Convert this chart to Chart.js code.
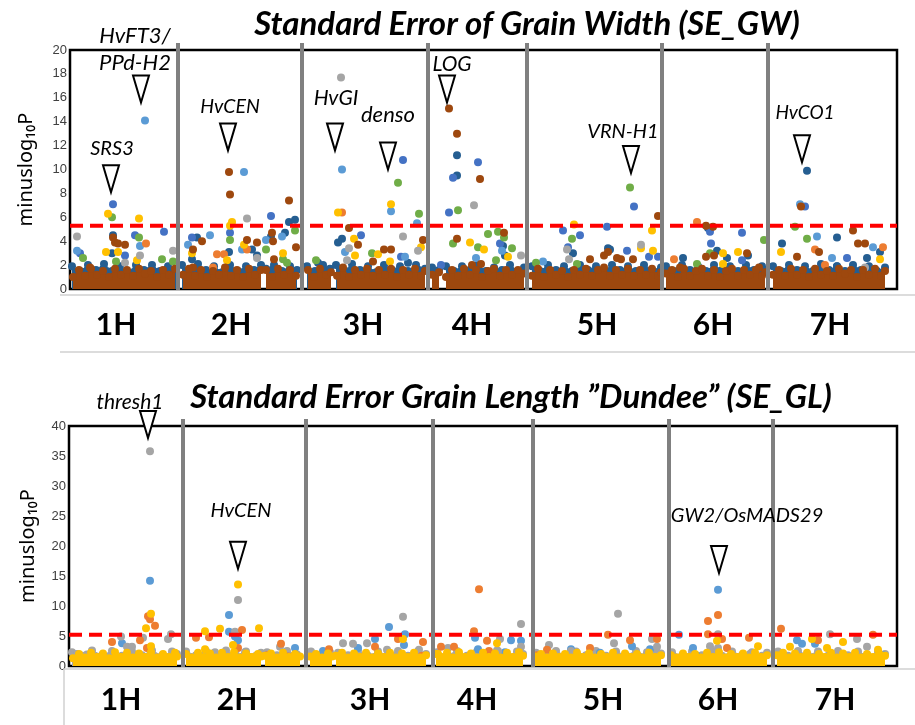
<!DOCTYPE html>
<html>
<head>
<meta charset="utf-8">
<script src="https://cdn.jsdelivr.net/npm/chart.js@4.4.1/dist/chart.umd.min.js"></script>
<style>
  body { margin: 0; background: #fff; width: 915px; height: 725px; position: relative; overflow: hidden; }
  canvas { position: absolute; left: 0; }
  #gw { top: 0; }
  #gl { top: 355px; }
</style>
</head>
<body>
<canvas id="gw" width="915" height="355"></canvas>
<canvas id="gl" width="915" height="370"></canvas>
<script>
// Chromosomes and cumulative start position of each one (same units as SNP positions)
const chromosomes = ['1H', '2H', '3H', '4H', '5H', '6H', '7H'];
const gwChrStart = [0, 108, 232, 358, 457, 592, 698];
const gwGenomeEnd = 827;
const gwChrLabelPos = [46, 161, 293, 402, 527, 643, 760];
const glChrStart = [0, 114, 237, 364, 464, 600, 704];
const glGenomeEnd = 828;
const glChrLabelPos = [52, 168, 301, 408, 534, 649, 766];

const gwThreshold = 5.3;
const glThreshold = 5.2;

// SE_GW markers: [chromosome, position in chromosome, -log10 P]
const gwLightBlue = [
  [1, 7, 3.2], [1, 70, 3.6], [1, 75, 14.1],
  [2, 66, 9.8], [2, 32, 4.5], [2, 64, 3.3], [2, 88, 4.1], [2, 104, 4.4], [2, 10, 3.7],
  [3, 40, 10.0], [3, 89, 6.5], [3, 115, 5.5], [3, 43, 3.1], [3, 103, 2.7],
  [4, 48, 2.6], [4, 74, 3.2],
  [5, 16, 2.3],
  [7, 32, 7.1], [7, 49, 4.4], [7, 64, 2.6], [7, 105, 3.5]
];
const gwDarkBlue = [
  [1, 43, 4.5], [1, 42, 3.0],
  [2, 51, 3.1], [2, 74, 3.3], [2, 79, 2.8], [2, 93, 4.4], [2, 111, 5.6], [2, 117, 5.8], [2, 107, 4.7], [2, 19, 4.3], [2, 14, 2.5],
  [3, 40, 4.2], [3, 36, 3.9], [3, 106, 2.2], [3, 16, 2.2],
  [4, 29, 11.2], [4, 29, 9.5], [4, 75, 3.6], [4, 77, 2.8],
  [5, 46, 3.0], [5, 81, 3.4], [5, 83, 3.3],
  [6, 46, 5.1], [6, 55, 3.2], [6, 65, 2.6], [6, 21, 2.6], [6, 86, 2.8],
  [7, 39, 9.9], [7, 69, 4.3], [7, 14, 3.8], [7, 112, 3.1], [7, 99, 2.6], [7, 69, 1.9]
];
const gwBlue = [
  [1, 43, 7.1], [1, 10, 3.0], [1, 55, 2.8], [1, 65, 4.5], [1, 94, 4.8],
  [2, 93, 6.1], [2, 14, 4.3], [2, 52, 4.7],
  [3, 101, 10.8], [3, 59, 4.5], [3, 99, 2.7],
  [4, 50, 10.6], [4, 25, 9.3], [4, 21, 6.4], [4, 13, 2.0], [4, 72, 3.8],
  [5, 107, 6.9], [5, 36, 4.9], [5, 80, 5.2], [5, 53, 4.5], [5, 41, 3.5], [5, 100, 3.2], [5, 122, 2.7], [5, 131, 2.7],
  [6, 48, 4.8], [6, 80, 4.7], [6, 49, 3.8], [6, 80, 2.4],
  [7, 37, 6.9], [7, 79, 2.6]
];
const gwGreen = [
  [1, 13, 2.6], [1, 42, 6.0], [1, 46, 2.3], [1, 69, 4.3], [1, 92, 2.5], [1, 103, 2.3],
  [2, 52, 4.1], [2, 117, 4.9], [2, 88, 3.3], [2, 105, 2.5], [2, 109, 2.2],
  [3, 96, 8.9], [3, 117, 6.3], [3, 70, 3.0], [3, 14, 2.4],
  [4, 30, 6.6], [4, 25, 3.8], [4, 50, 3.5], [4, 60, 4.6], [4, 70, 4.8], [4, 76, 4.3], [4, 84, 3.4], [4, 68, 2.4],
  [5, 103, 8.5], [5, 45, 4.2], [5, 9, 2.2], [5, 50, 2.1],
  [6, 102, 4.1], [6, 48, 3.0], [6, 35, 2.1],
  [7, 27, 5.2], [7, 39, 4.2]
];
const gwYellow = [
  [1, 38, 6.3], [1, 36, 3.1], [1, 48, 3.1], [1, 69, 5.9], [1, 67, 2.4],
  [2, 54, 5.6], [2, 52, 5.3], [2, 66, 3.7], [2, 105, 3.0], [2, 49, 2.4], [2, 14, 3.0],
  [3, 36, 6.4], [3, 89, 7.1], [3, 52, 4.2], [3, 53, 2.8], [3, 76, 2.9], [3, 88, 2.3], [3, 119, 3.5],
  [4, 42, 3.9], [4, 56, 3.3], [4, 80, 2.7],
  [5, 47, 5.4], [5, 125, 4.9], [5, 114, 3.4], [5, 126, 3.2],
  [6, 61, 3.0], [6, 76, 3.1], [6, 61, 2.1],
  [7, 13, 3.1], [7, 112, 2.5]
];
const gwGray = [
  [1, 7, 4.4], [1, 55, 2.2], [1, 70, 2.8], [1, 103, 3.2],
  [2, 69, 5.9], [2, 79, 2.6],
  [3, 39, 17.7], [3, 47, 3.4], [3, 45, 2.4], [3, 101, 4.4], [3, 116, 3.2],
  [4, 46, 7.0], [4, 93, 2.8],
  [5, 40, 3.3], [5, 42, 2.5], [5, 114, 3.7],
  [7, 97, 1.8]
];
const gwOrange = [
  [1, 76, 3.8],
  [2, 39, 2.9], [2, 46, 2.9], [2, 69, 3.3], [2, 35, 1.8],
  [3, 40, 6.4],
  [6, 35, 5.6], [6, 12, 2.5],
  [7, 47, 3.3], [7, 115, 3.5], [7, 57, 2.0]
];
const gwBrown = [
  [1, 43, 4.3], [1, 45, 3.9], [1, 48, 3.8], [1, 55, 3.7], [1, 20, 1.8],
  [2, 51, 9.8], [2, 52, 7.9], [2, 111, 7.4], [2, 24, 4.0], [2, 15, 3.3], [2, 69, 4.1], [2, 79, 3.9], [2, 94, 4.7], [2, 95, 4.0], [2, 96, 2.5], [2, 118, 3.5], [2, 15, 1.8],
  [3, 47, 5.1], [3, 56, 3.7], [3, 82, 3.3], [3, 89, 3.3], [3, 121, 4.1], [3, 71, 2.3],
  [4, 21, 15.1], [4, 29, 13.0], [4, 52, 9.2], [4, 29, 4.2], [4, 76, 4.7], [4, 44, 2.0], [4, 53, 2.1],
  [5, 131, 6.1], [5, 63, 2.5], [5, 81, 3.1], [5, 77, 2.8], [5, 94, 2.5], [5, 106, 2.5], [5, 90, 2.6],
  [6, 44, 5.3], [6, 51, 5.2], [6, 44, 2.7], [6, 52, 2.8], [6, 85, 3.0], [6, 97, 1.8], [6, 18, 1.8],
  [7, 33, 6.9], [7, 85, 4.9], [7, 51, 3.1], [7, 90, 3.8], [7, 97, 3.8], [7, 29, 2.7]
];
// upper edge of the dense non-significant markers (null = break between blocks)
const gwBrownBand = [
  [1, 3, 1.0], [1, 9, 1.6], [1, 15, 1.1], [1, 21, 1.7], [1, 27, 1.2], [1, 33, 1.5], [1, 39, 1.0], [1, 45, 1.7], [1, 51, 1.2], [1, 57, 1.6], [1, 63, 1.1], [1, 69, 1.7], [1, 75, 1.3], [1, 81, 1.5], [1, 87, 1.0], [1, 93, 1.6], [1, 99, 1.2], [1, 105, 1.7],
  [2, 5, 1.2], [2, 11, 1.7], [2, 17, 1.1], [2, 23, 1.6], [2, 29, 1.0], [2, 35, 1.5], [2, 41, 1.2], [2, 47, 1.8], [2, 53, 1.1], [2, 59, 1.6], [2, 65, 1.0], [2, 71, 1.7], [2, 77, 1.2], [2, 83, 1.6], [2, 85, null], [2, 88, 1.6], [2, 94, 1.0], [2, 100, 1.7], [2, 106, 1.2], [2, 112, 1.6], [2, 118, 1.1],
  [3, 6, 1.6], [3, 12, 1.0], [3, 18, 1.7], [3, 24, 1.2], [3, 29, 1.4], [3, 31, null], [3, 35, 1.1], [3, 41, 1.8], [3, 47, 1.0], [3, 53, 1.6], [3, 59, 1.2], [3, 65, 1.7], [3, 71, 1.1], [3, 77, 1.6], [3, 83, 1.2], [3, 89, 1.7], [3, 95, 1.0], [3, 101, 1.6], [3, 107, 1.2], [3, 113, 1.7], [3, 119, 1.1], [3, 123, 1.5],
  [4, 4, 1.2], [4, 11, 1.4], [4, 14, null], [4, 18, 1.0], [4, 24, 1.6], [4, 30, 1.1], [4, 36, 1.7], [4, 42, 1.2], [4, 48, 1.6], [4, 54, 1.0], [4, 60, 1.5], [4, 66, 1.7], [4, 72, 1.1], [4, 78, 1.6], [4, 84, 1.2], [4, 90, 1.6], [4, 96, 1.3],
  [5, 5, 1.1], [5, 11, 1.7], [5, 17, 1.0], [5, 23, 1.6], [5, 29, 1.2], [5, 35, 1.5], [5, 41, 1.0], [5, 47, 1.6], [5, 53, 1.2], [5, 59, 1.7], [5, 65, 1.1], [5, 71, 1.6], [5, 77, 1.8], [5, 83, 1.1], [5, 89, 1.6], [5, 95, 1.2], [5, 101, 1.7], [5, 107, 1.1], [5, 113, 1.6], [5, 119, 1.2], [5, 125, 1.7], [5, 131, 1.1], [5, 134, 1.4],
  [6, 4, 1.3], [6, 10, 1.6], [6, 16, 1.0], [6, 22, 1.7], [6, 28, 1.1], [6, 34, 1.5], [6, 40, 1.7], [6, 46, 1.1], [6, 52, 1.6], [6, 58, 1.0], [6, 64, 1.5], [6, 70, 1.7], [6, 76, 1.1], [6, 82, 1.6], [6, 88, 1.2], [6, 94, 1.6], [6, 100, 1.1], [6, 103, 1.4],
  [7, 5, 1.2], [7, 11, 1.6], [7, 17, 1.1], [7, 23, 1.7], [7, 29, 1.2], [7, 35, 1.6], [7, 41, 1.0], [7, 47, 1.7], [7, 53, 1.2], [7, 59, 1.5], [7, 65, 1.1], [7, 71, 1.7], [7, 77, 1.3], [7, 83, 1.6], [7, 89, 1.0], [7, 95, 1.6], [7, 101, 1.2], [7, 107, 1.7], [7, 113, 1.1], [7, 117, 1.5]
];
const gwDarkBlueBand = [
  [1, 2, 1.9], [1, 10, 1.5], [1, 18, 2.0], [1, 26, 1.6], [1, 34, 2.1], [1, 42, 1.5], [1, 50, 1.9], [1, 58, 1.4], [1, 66, 2.0], [1, 74, 1.6], [1, 82, 2.0], [1, 90, 1.5], [1, 98, 1.9], [1, 106, 1.7],
  [2, 4, 2.0], [2, 12, 1.5], [2, 20, 2.1], [2, 28, 1.6], [2, 36, 1.9], [2, 44, 1.4], [2, 52, 2.0], [2, 60, 1.5], [2, 68, 1.9], [2, 76, 1.6], [2, 83, 2.0], [2, 85, null], [2, 88, 1.7], [2, 96, 2.0], [2, 104, 1.5], [2, 112, 1.9], [2, 119, 1.6],
  [3, 5, 1.9], [3, 13, 1.5], [3, 21, 2.0], [3, 28, 1.7], [3, 31, null], [3, 34, 2.0], [3, 42, 1.5], [3, 50, 2.1], [3, 58, 1.6], [3, 66, 1.9], [3, 74, 1.4], [3, 82, 2.0], [3, 90, 1.6], [3, 98, 1.9], [3, 106, 1.5], [3, 114, 2.0], [3, 123, 1.7],
  [4, 4, 1.8], [4, 11, 1.6], [4, 14, null], [4, 18, 1.9], [4, 26, 1.5], [4, 34, 1.9], [4, 42, 1.6], [4, 50, 2.0], [4, 58, 1.5], [4, 66, 1.8], [4, 74, 1.6], [4, 82, 2.0], [4, 90, 1.5], [4, 96, 1.8],
  [5, 5, 1.9], [5, 13, 1.5], [5, 21, 2.0], [5, 29, 1.6], [5, 37, 1.9], [5, 45, 1.5], [5, 53, 2.0], [5, 61, 1.6], [5, 69, 1.9], [5, 77, 1.5], [5, 85, 2.0], [5, 93, 1.6], [5, 101, 1.9], [5, 109, 1.5], [5, 117, 2.0], [5, 125, 1.6], [5, 134, 1.8],
  [6, 4, 1.9], [6, 12, 1.5], [6, 20, 2.0], [6, 28, 1.6], [6, 36, 1.9], [6, 44, 1.5], [6, 52, 2.0], [6, 60, 1.6], [6, 68, 1.9], [6, 76, 1.5], [6, 84, 2.0], [6, 92, 1.6], [6, 100, 1.9], [6, 103, 1.6],
  [7, 5, 1.9], [7, 13, 1.5], [7, 21, 2.0], [7, 29, 1.6], [7, 37, 1.9], [7, 45, 1.5], [7, 53, 2.1], [7, 61, 1.6], [7, 69, 1.9], [7, 77, 1.5], [7, 85, 2.0], [7, 93, 1.6], [7, 101, 1.9], [7, 109, 1.5], [7, 117, 1.8]
];

// SE_GL markers
const glGray = [
  [1, 81, 35.8], [1, 74, 4.7], [1, 52, 4.9], [1, 58, 3.2], [1, 63, 3.2], [1, 99, 4.5], [1, 102, 5.3], [1, 18, 1.9], [1, 8, 2.0],
  [2, 55, 11.0], [2, 52, 5.7], [2, 32, 2.3], [2, 62, 2.3], [2, 97, 3.2],
  [3, 97, 8.2], [3, 61, 3.8], [3, 47, 3.7], [3, 37, 3.8], [3, 113, 2.7], [3, 81, 2.7],
  [4, 88, 7.0], [4, 67, 4.5], [4, 88, 3.2], [4, 15, 3.0], [4, 65, 2.5],
  [5, 85, 8.7], [5, 81, 3.8], [5, 119, 4.5], [5, 124, 3.2], [5, 16, 3.5], [5, 38, 2.5], [5, 114, 2.3],
  [6, 49, 5.3], [6, 41, 3.3], [6, 49, 3.0], [6, 81, 2.0],
  [7, 57, 5.3], [7, 84, 4.5], [7, 94, 3.2]
];
const glBlue = [
  [1, 81, 14.2], [1, 53, 3.8], [1, 8, 1.9],
  [2, 46, 8.5], [2, 46, 5.7], [2, 55, 4.3], [2, 52, 4.9], [2, 112, 3.0],
  [3, 83, 6.5], [3, 99, 5.3], [3, 98, 3.5], [3, 69, 4.5], [3, 52, 3.0], [3, 17, 2.5],
  [4, 42, 4.7], [4, 78, 4.3], [4, 88, 4.2], [4, 45, 2.8], [4, 72, 2.3],
  [5, 99, 3.3], [5, 38, 2.8], [5, 67, 2.2], [5, 117, 2.8],
  [6, 49, 12.7], [6, 10, 5.2], [6, 24, 3.0], [6, 27, 1.8],
  [7, 24, 4.3], [7, 29, 3.7], [7, 42, 3.7], [7, 110, 1.8]
];
const glOrange = [
  [1, 79, 8.3], [1, 81, 7.8], [1, 86, 6.7], [1, 71, 4.3], [1, 78, 3.0], [1, 43, 4.0],
  [2, 59, 6.0], [2, 55, 3.0], [2, 13, 4.7], [2, 26, 4.8], [2, 98, 3.7], [2, 84, 1.8], [2, 105, 1.6],
  [3, 92, 4.5], [3, 69, 3.2], [3, 23, 2.8], [3, 117, 4.0], [3, 116, 1.7],
  [4, 46, 12.8], [4, 41, 5.8], [4, 54, 4.2], [4, 56, 2.5], [4, 8, 3.2], [4, 21, 3.2],
  [5, 75, 5.2], [5, 97, 4.3], [5, 14, 2.7], [5, 57, 3.0], [5, 4, 1.8], [5, 124, 4.5],
  [6, 49, 8.5], [6, 39, 7.5], [6, 39, 5.3], [6, 53, 4.5], [6, 80, 4.7], [6, 58, 3.0],
  [7, 8, 6.2], [7, 45, 4.3], [7, 100, 5.2]
];
const glYellow = [
  [1, 82, 8.7], [1, 77, 6.3], [1, 82, 3.3],
  [2, 55, 13.6], [2, 22, 5.8], [2, 37, 6.2], [2, 76, 6.3], [2, 50, 3.5], [2, 22, 2.8],
  [3, 97, 4.5],
  [4, 64, 3.8], [4, 5, 2.0],
  [6, 48, 4.2], [6, 89, 3.3],
  [7, 17, 3.2], [7, 39, 4.5], [7, 54, 3.0], [7, 70, 4.0], [7, 105, 2.7]
];
const glYellowBand = [
  [1, 4, 1.3], [1, 10, 2.0], [1, 16, 1.4], [1, 22, 2.2], [1, 28, 1.5], [1, 34, 2.1], [1, 40, 1.3], [1, 46, 2.3], [1, 52, 1.5], [1, 58, 2.2], [1, 64, 1.4], [1, 70, 2.1], [1, 76, 1.5], [1, 82, 2.3], [1, 88, 1.4], [1, 94, 2.0], [1, 100, 1.5], [1, 106, 2.2], [1, 108, 1.6],
  [2, 3, 2.0], [2, 9, 1.4], [2, 15, 2.2], [2, 21, 1.5], [2, 27, 2.1], [2, 33, 1.4], [2, 39, 2.2], [2, 45, 1.5], [2, 51, 2.3], [2, 57, 1.4], [2, 63, 2.1], [2, 69, 1.5], [2, 75, 2.0], [2, 78, 1.6], [2, 80, null], [2, 82, 1.7], [2, 88, 2.1], [2, 94, 1.4], [2, 100, 2.2], [2, 106, 1.5], [2, 112, 2.0], [2, 117, 1.6],
  [3, 4, 1.6], [3, 10, 2.0], [3, 16, 1.4], [3, 22, 2.1], [3, 26, 1.6], [3, 28, null], [3, 30, 1.7], [3, 36, 2.2], [3, 42, 1.4], [3, 48, 2.1], [3, 54, 1.5], [3, 60, 2.2], [3, 66, 1.4], [3, 72, 2.1], [3, 78, 1.5], [3, 84, 2.2], [3, 90, 1.4], [3, 96, 2.1], [3, 102, 1.5], [3, 108, 2.2], [3, 114, 1.4], [3, 120, 1.8],
  [4, 3, 2.0], [4, 8, 1.5], [4, 14, 2.2], [4, 20, 1.4], [4, 26, 2.3], [4, 32, 1.5], [4, 38, 2.1], [4, 44, 1.4], [4, 50, 2.2], [4, 56, 1.5], [4, 62, 2.1], [4, 68, 1.4], [4, 74, 2.2], [4, 80, 1.5], [4, 86, 2.3], [4, 90, 1.7],
  [5, 2, 1.6], [5, 8, 2.0], [5, 14, 1.4], [5, 20, 2.1], [5, 26, 1.5], [5, 32, 2.0], [5, 38, 1.4], [5, 44, 2.2], [5, 50, 1.5], [5, 56, 2.1], [5, 62, 1.4], [5, 68, 2.0], [5, 74, 1.5], [5, 80, 2.2], [5, 86, 1.4], [5, 92, 2.1], [5, 98, 1.5], [5, 104, 2.0], [5, 110, 1.4], [5, 116, 2.2], [5, 122, 1.5], [5, 128, 1.8],
  [6, 2, 1.8], [6, 8, 1.4], [6, 14, 2.1], [6, 20, 1.5], [6, 26, 2.0], [6, 32, 1.4], [6, 38, 2.2], [6, 44, 1.5], [6, 50, 2.3], [6, 56, 1.4], [6, 62, 2.0], [6, 68, 1.5], [6, 74, 2.1], [6, 80, 1.4], [6, 86, 2.2], [6, 92, 1.5], [6, 98, 1.8],
  [7, 4, 1.8], [7, 10, 2.2], [7, 16, 1.4], [7, 22, 2.1], [7, 28, 1.5], [7, 34, 2.2], [7, 40, 1.4], [7, 46, 2.0], [7, 52, 1.5], [7, 58, 2.2], [7, 64, 1.4], [7, 70, 2.1], [7, 76, 1.5], [7, 82, 2.2], [7, 88, 1.4], [7, 94, 2.0], [7, 100, 1.5], [7, 106, 2.1], [7, 112, 1.7]
];
const glGrayBand = [
  [1, 3, 2.3], [1, 13, 1.7], [1, 23, 2.6], [1, 33, 1.8], [1, 43, 2.5], [1, 53, 1.7], [1, 63, 2.4], [1, 73, 1.8], [1, 83, 2.6], [1, 93, 1.7], [1, 103, 2.4], [1, 108, 2.0],
  [2, 3, 2.4], [2, 13, 1.8], [2, 23, 2.5], [2, 33, 1.7], [2, 43, 2.6], [2, 53, 1.8], [2, 63, 2.4], [2, 73, 1.7], [2, 78, 2.2], [2, 80, null], [2, 84, 2.3], [2, 94, 1.8], [2, 104, 2.5], [2, 114, 1.9],
  [3, 5, 2.4], [3, 15, 1.8], [3, 24, 2.3], [3, 28, null], [3, 32, 2.2], [3, 42, 1.8], [3, 52, 2.6], [3, 62, 1.7], [3, 72, 2.4], [3, 82, 1.8], [3, 92, 2.5], [3, 102, 1.7], [3, 112, 2.4], [3, 120, 2.0],
  [4, 4, 2.3], [4, 14, 1.8], [4, 24, 2.5], [4, 34, 1.7], [4, 44, 2.4], [4, 54, 1.8], [4, 64, 2.6], [4, 74, 1.7], [4, 84, 2.4], [4, 90, 2.0],
  [5, 3, 2.2], [5, 13, 1.8], [5, 23, 2.5], [5, 33, 1.7], [5, 43, 2.4], [5, 53, 1.8], [5, 63, 2.5], [5, 73, 1.7], [5, 83, 2.4], [5, 93, 1.8], [5, 103, 2.5], [5, 113, 1.7], [5, 123, 2.6], [5, 128, 2.1],
  [6, 3, 2.3], [6, 13, 1.7], [6, 23, 2.4], [6, 33, 1.8], [6, 43, 2.5], [6, 53, 1.7], [6, 63, 2.4], [6, 73, 1.8], [6, 83, 2.3], [6, 93, 1.7], [6, 98, 2.2],
  [7, 5, 2.4], [7, 15, 1.7], [7, 25, 2.5], [7, 35, 1.8], [7, 45, 2.4], [7, 55, 1.7], [7, 65, 2.5], [7, 75, 1.8], [7, 85, 2.4], [7, 95, 1.7], [7, 105, 2.3], [7, 112, 2.0]
];

// candidate genes: [label lines, chromosome, position, -log10 P at the arrow tip]
const gwGenes = [
  [['HvFT3/', 'PPd-H2'], 1, 71, 15.6],
  [['SRS3'], 1, 41, 8.1],
  [['HvCEN'], 2, 50, 11.6],
  [['HvGI'], 3, 33, 11.6],
  [['denso'], 3, 86, 10.0],
  [['LOG'], 4, 19, 15.6],
  [['VRN-H1'], 5, 104, 9.7],
  [['HvCO1'], 7, 34, 10.6]
];
const glGenes = [
  [['thresh1'], 1, 79, 38.0],
  [['HvCEN'], 2, 55, 16.2],
  [['GW2/OsMADS29'], 6, 50, 15.5]
];

const colors = {
  brown: '#9E480E', darkBlue: '#255E91', blue: '#4472C4', lightBlue: '#5B9BD5',
  green: '#70AD47', yellow: '#FFC000', gray: '#A5A5A5', orange: '#ED7D31'
};

function toPoints(rows, starts) {
  const out = [];
  let prevChr = null;
  rows.forEach(([chr, pos, v]) => {
    if (prevChr !== null && chr !== prevChr) out.push({ x: starts[chr - 1], y: null });
    out.push({ x: starts[chr - 1] + pos, y: v });
    prevChr = chr;
  });
  return out;
}

function scatterSet(label, rows, starts, color, order) {
  return {
    type: 'scatter', label, data: toPoints(rows, starts).filter(p => p.y !== null),
    backgroundColor: color, borderWidth: 0, pointRadius: 4, pointHoverRadius: 4,
    order, clip: false
  };
}

function bandSet(label, rows, starts, color, order, floor) {
  return {
    type: 'line', label, data: toPoints(rows, starts),
    backgroundColor: color, borderColor: color, borderWidth: 1,
    pointRadius: 4, pointHoverRadius: 4, pointBackgroundColor: color, pointBorderWidth: 0,
    fill: { value: floor }, spanGaps: false, tension: 0, order, clip: false
  };
}

function thresholdSet(value, end) {
  return {
    type: 'line', label: 'threshold', data: [{ x: 0, y: value }, { x: end, y: value }],
    borderColor: '#FF0000', borderWidth: 4, borderDash: [13, 7], pointRadius: 0,
    fill: false, order: -1, clip: false
  };
}

// frame, chromosome dividers, labels, title and gene arrows
function decorPlugin(cfg) {
  return {
    id: 'decor',
    beforeDatasetsDraw(chart) {
      const { ctx, chartArea: a } = chart;
      ctx.save();
      ctx.strokeStyle = '#000';
      ctx.lineWidth = 2.5;
      ctx.strokeRect(a.left, a.top, a.right - a.left, a.bottom - a.top);
      ctx.restore();
    },
    afterDraw(chart) {
      const { ctx, chartArea: a, scales: { x, y } } = chart;
      ctx.save();

      ctx.strokeStyle = '#D0D0D0';
      ctx.lineWidth = 1.5;
      cfg.frameLines.forEach(([x1, y1, x2, y2]) => {
        ctx.beginPath(); ctx.moveTo(x1, y1); ctx.lineTo(x2, y2); ctx.stroke();
      });

      ctx.strokeStyle = '#808080';
      ctx.lineWidth = 4;
      cfg.chrStart.slice(1).forEach(s => {
        const px = x.getPixelForValue(s);
        ctx.beginPath(); ctx.moveTo(px, a.top - 7); ctx.lineTo(px, a.bottom + 1); ctx.stroke();
      });

      ctx.fillStyle = '#000';
      ctx.textAlign = 'center';
      ctx.textBaseline = 'middle';
      ctx.font = 'bold 30px Lato';
      chromosomes.forEach((c, i) => {
        ctx.fillText(c, x.getPixelForValue(cfg.labelPos[i]), a.bottom + cfg.labelGap);
      });

      ctx.textBaseline = 'alphabetic';
      ctx.font = 'italic bold 33px Lato';
      ctx.fillText(cfg.title, cfg.titleX, cfg.titleY);

      cfg.genes.forEach(([lines, chr, pos, v], i) => {
        const tx = x.getPixelForValue(cfg.chrStart[chr - 1] + pos);
        const ty = y.getPixelForValue(v);
        const top = ty - 27;
        ctx.beginPath();
        ctx.moveTo(tx - 8, top); ctx.lineTo(tx + 8, top); ctx.lineTo(tx, ty); ctx.closePath();
        ctx.fillStyle = '#fff'; ctx.fill();
        ctx.strokeStyle = '#000'; ctx.lineWidth = 2; ctx.stroke();
        const [dx, dy, size] = cfg.geneLabels[i];
        ctx.fillStyle = '#000';
        ctx.font = `italic ${size}px Lato`;
        lines.forEach((t, k) => {
          ctx.fillText(t, tx + dx, top + dy - (lines.length - 1 - k) * 27);
        });
      });
      ctx.restore();
    }
  };
}

function makeChart(id, opts) {
  new Chart(document.getElementById(id), {
    data: { datasets: opts.datasets },
    options: {
      responsive: false,
      animation: false,
      events: [],
      layout: { padding: opts.padding },
      plugins: { legend: { display: false }, tooltip: { enabled: false } },
      scales: {
        x: { type: 'linear', min: 0, max: opts.end, display: false },
        y: {
          min: 0, max: opts.yMax,
          ticks: { stepSize: opts.yStep, padding: 3, color: '#404040', font: { family: 'Liberation Sans', size: 13 } },
          grid: { display: false, drawTicks: false },
          border: { display: false },
          title: {
            display: true, text: 'minuslog₁₀P', color: '#000',
            font: { family: 'Noto Sans', size: 20 }, padding: { top: opts.titlePad, bottom: 0 }
          },
          afterFit(scale) { scale.width = opts.axisWidth; }
        }
      }
    },
    plugins: [decorPlugin(opts.decor)]
  });
}

makeChart('gw', {
  end: gwGenomeEnd, yMax: 20, yStep: 2, axisWidth: 70, titlePad: 14,
  padding: { top: 50, right: 18, bottom: 66, left: 0 },
  datasets: [
    thresholdSet(gwThreshold, gwGenomeEnd),
    bandSet('brown band', gwBrownBand, gwChrStart, colors.brown, 0, -0.3),
    scatterSet('brown', gwBrown, gwChrStart, colors.brown, 1),
    scatterSet('gray', gwGray, gwChrStart, colors.gray, 2),
    scatterSet('yellow', gwYellow, gwChrStart, colors.yellow, 3),
    scatterSet('orange', gwOrange, gwChrStart, colors.orange, 4),
    scatterSet('green', gwGreen, gwChrStart, colors.green, 5),
    scatterSet('light blue', gwLightBlue, gwChrStart, colors.lightBlue, 6),
    scatterSet('blue', gwBlue, gwChrStart, colors.blue, 7),
    scatterSet('dark blue', gwDarkBlue, gwChrStart, colors.darkBlue, 8),
    bandSet('dark blue band', gwDarkBlueBand, gwChrStart, colors.darkBlue, 9, -0.3)
  ],
  decor: {
    chrStart: gwChrStart, labelPos: gwChrLabelPos, labelGap: 36,
    title: 'Standard Error of Grain Width (SE_GW)', titleX: 527, titleY: 35,
    genes: gwGenes,
    // label offset from the arrow (dx, dy) and font size
    geneLabels: [[-6, -6, 22], [1, -10, 20], [2, -10, 19.5], [1, -18, 21], [0, -21, 22], [5, -5, 21], [-8, -8, 20], [3, -16, 19]],
    frameLines: [[60, 295, 915, 295], [60, 352, 915, 352]]
  }
});

makeChart('gl', {
  end: glGenomeEnd, yMax: 40, yStep: 5, axisWidth: 69, titlePad: 16,
  padding: { top: 71, right: 18, bottom: 59, left: 0 },
  datasets: [
    thresholdSet(glThreshold, glGenomeEnd),
    bandSet('yellow band', glYellowBand, glChrStart, colors.yellow, 0, -0.6),
    scatterSet('yellow', glYellow, glChrStart, colors.yellow, 1),
    scatterSet('orange', glOrange, glChrStart, colors.orange, 2),
    scatterSet('gray', glGray, glChrStart, colors.gray, 3),
    scatterSet('blue', glBlue, glChrStart, colors.lightBlue, 4),
    bandSet('gray band', glGrayBand, glChrStart, colors.gray, 5, -0.6)
  ],
  decor: {
    chrStart: glChrStart, labelPos: glChrLabelPos, labelGap: 34,
    title: 'Standard Error Grain Length ”Dundee” (SE_GL)', titleX: 511, titleY: 53,
    genes: glGenes,
    geneLabels: [[-18, -2, 21], [3, -25, 20], [28, -24, 20]],
    frameLines: [[64, 314, 915, 314], [64, 314, 64, 370]]
  }
});
</script>
</body>
</html>
